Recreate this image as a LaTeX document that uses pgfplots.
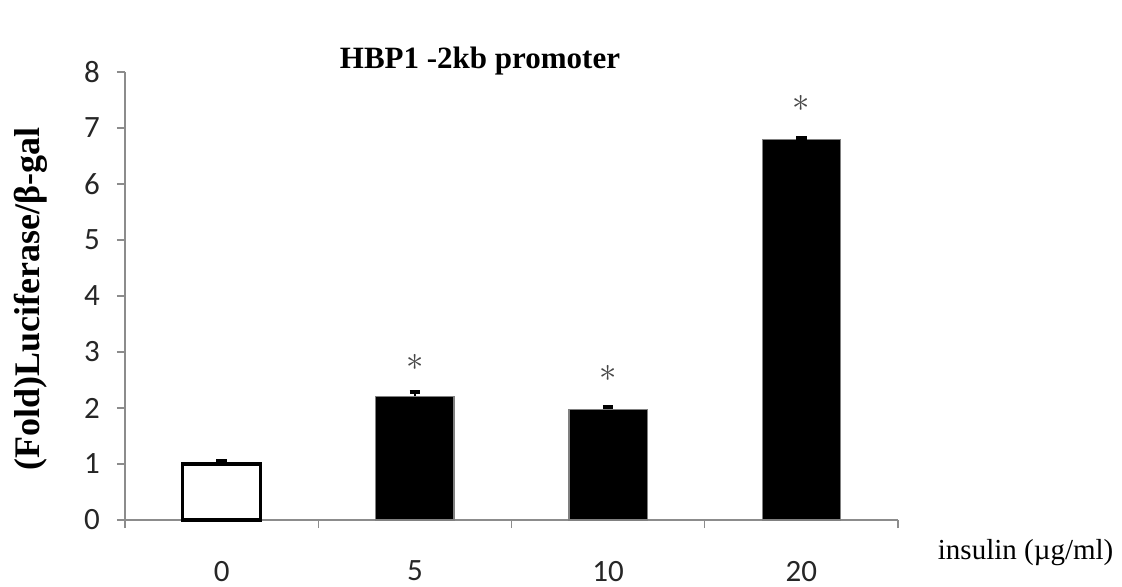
\documentclass[border=0pt]{standalone}
\usepackage{fontspec}
\setmainfont{Liberation Serif}
\newfontfamily\calibri{Carlito}
\usepackage{graphicx}
\usepackage{pgfplots}
\pgfplotsset{compat=1.18}
\definecolor{axisgray}{RGB}{140,140,140}
\definecolor{stargray}{RGB}{70,70,70}
\begin{document}
\begin{tikzpicture}
\useasboundingbox (-62.5pt,-33.5pt) rectangle (498.5pt,260pt);
\begin{axis}[
  at={(0,0)}, anchor=south west,
  scale only axis, width=386.5pt, height=224pt,
  xmin=-0.5, xmax=3.5, ymin=0, ymax=8,
  axis lines*=left,
  axis line style={axisgray, line width=0.6pt},
  every tick/.style={axisgray, line width=0.6pt},
  tick align=outside, major tick length=4pt,
  ytick={0,1,...,8},
  xtick={-0.5,0.5,1.5,2.5,3.5}, xticklabels={},
  extra x ticks={0,1,2,3}, extra x tick labels={0,5,10,20},
  extra x tick style={major tick length=0pt, xticklabel style={yshift=-17pt}},
  ticklabel style={font=\calibri\fontsize{15.5}{17}\selectfont, text=black!85},
  /pgf/number format/assume math mode=true,
  yticklabel style={xshift=-5pt},
  clip=false,
]
\addplot[ybar, bar width=0.404, bar shift=0pt, fill=white, draw=black, line width=1.6pt,
  error bars/.cd, y dir=plus, y explicit, error mark=-,
  error bar style={black, line width=1pt},
  error mark options={rotate=90, black, mark size=2.6pt, line width=2pt}]
  coordinates {(0,1.00) +- (0,0.05)};
\addplot[ybar, bar width=0.404, bar shift=0pt, fill=black, draw=gray, line width=0.6pt,
  error bars/.cd, y dir=plus, y explicit, error mark=-,
  error bar style={black, line width=1pt},
  error mark options={rotate=90, black, mark size=2.6pt, line width=2pt}]
  coordinates {(1,2.21) +- (0,0.08) (2,1.98) +- (0,0.04) (3,6.80) +- (0,0.03)};
\addplot[only marks, mark=none, nodes near coords={$\ast$},
  nodes near coords style={anchor=center, text=stargray, font=\fontsize{17}{17}\selectfont}]
  coordinates {(1,2.82) (2,2.62) (3,7.43)};
\node[anchor=base, font=\bfseries\fontsize{15.5}{17}\selectfont] at (axis cs:1.337,8.07)
  {HBP1 -2kb promoter};
\node[anchor=base west, font=\fontsize{14.5}{16}\selectfont] at (axis cs:3.67,-0.714)
  {insulin (µg/ml)};
\node[rotate=90, font=\bfseries\fontsize{18}{20}\selectfont] at (axis cs:-0.99,3.95)
  {(Fold)Luciferase/β-gal};
\end{axis}
\end{tikzpicture}
\end{document}
